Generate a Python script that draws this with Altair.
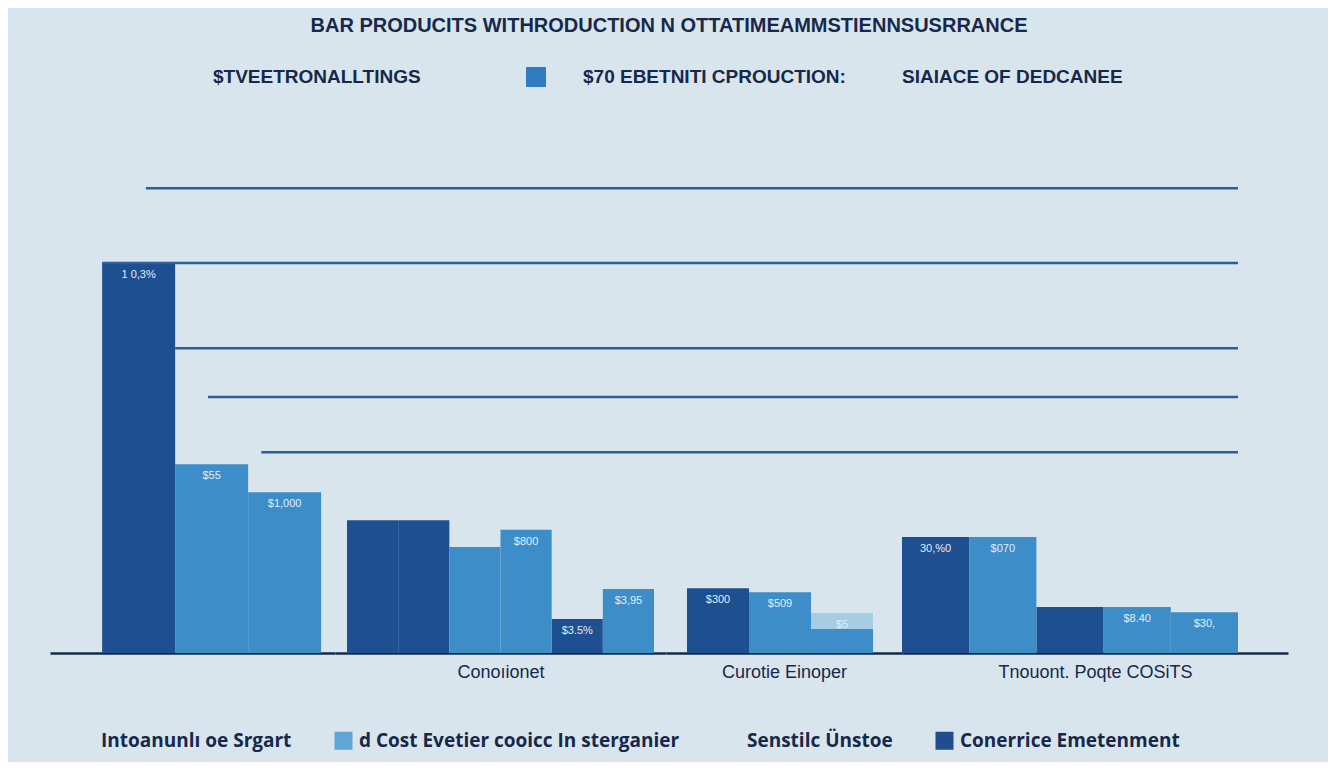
import altair as alt
import pandas as pd

# ---------------- data ----------------
TITLE = "BAR PRODUCITS WITHRODUCTION N OTTATIMEAMMSTIENNSUSRRANCE"
group_titles = ["", "Conoıionet", "Curotie Einoper", "Tnouont. Poqte COSiTS"]

bar_group = [0, 0, 0, 1, 1, 1, 1, 1, 1, 2, 2, 2, 3, 3, 3, 3, 3]
bar_slot = [1, 2, 3, 1, 2, 3, 4, 5, 6, 1, 2, 3, 1, 2, 3, 4, 5]
bar_value = [975, 472, 402, 332, 332, 265, 308, 85, 160, 162, 152, 60, 290, 290, 115, 115, 102]
bar_shade = ["dark", "medium", "medium",
             "dark", "dark", "medium", "medium", "dark", "medium",
             "dark", "medium", "medium",
             "dark", "medium", "dark", "medium", "medium"]
bar_label = ["1 0,3%", "$55", "$1,000",
             "", "", "", "$800", "$3.5%", "$3,95",
             "$300", "$509", "",
             "30,%0", "$070", "", "$8.40", "$30,"]

# light bar standing behind the last bar of the third group
back_group = [2]
back_slot = [3]
back_value = [100]
back_label = ["$5"]

grid_value = [1162, 975, 762, 640, 502]
grid_from_slot = [1, 1, 2, 2, 3]
grid_from_frac = [0.6, 0.0, 0.0, 0.45, 0.18]

top_legend_items = ["$TVEETRONALLTINGS", "$70 EBETNITI CPROUCTION:"]
top_legend_last = ["SIAIACE OF DEDCANEE"]
bottom_legend_items = ["Intoanunlı oe Srgart", "d Cost Evetier cooicc In sterganier",
                       "Senstilc Ünstoe", "Conerrice Emetenment"]

# ---------------- styles ----------------
SHADE = {"dark": "#1e4f91", "medium": "#3d8dc8", "light": "#a6cde4"}
NAVY = "#16284b"
GRID = "#2a5e9c"
BG = "#d9e5ec"

panel_width = [285, 331, 236, 386]
panel_pad = [0.452, 0.2345, 0.403, 0.372]
panel_align = [0.79, 0.5, 0.42, 0.0]
H = 520

bars = pd.DataFrame({"group": bar_group, "slot": bar_slot, "value": bar_value,
                     "shade": bar_shade, "label": bar_label})
back = pd.DataFrame({"group": back_group, "slot": back_slot, "value": back_value,
                     "label": back_label})
grid = pd.DataFrame({"value": grid_value, "slot": grid_from_slot, "frac": grid_from_frac})

yscale = alt.Scale(domain=[0, 1300])


def xenc(g, **kw):
    return alt.X(
        "slot:O",
        scale=alt.Scale(paddingInner=0, paddingOuter=panel_pad[g], align=panel_align[g]),
        axis=alt.Axis(title=group_titles[g], labels=False, ticks=False, grid=False,
                      domainColor=NAVY, domainWidth=2.5,
                      titleFont="Liberation Sans", titleFontSize=18,
                      titleFontWeight="normal", titleColor=NAVY, titlePadding=10),
        **kw,
    )


def yenc():
    return alt.Y("value:Q", scale=yscale, axis=None)


def panel(g):
    d = bars[bars.group == g]
    layers = []
    b = back[back.group == g]
    if len(b):
        layers.append(alt.Chart(b).mark_bar(color=SHADE["light"]).encode(x=xenc(g), y=yenc()))
    for shade in ["dark", "medium"]:
        ds = d[d.shade == shade]
        if len(ds):
            layers.append(alt.Chart(ds).mark_bar(color=SHADE[shade]).encode(x=xenc(g), y=yenc()))
    # gridlines
    if g == 0:
        for _, r in grid.iterrows():
            layers.append(
                alt.Chart(pd.DataFrame({"slot": [int(r.slot)], "value": [r.value]}))
                .mark_rule(color=GRID, strokeWidth=2.5)
                .encode(x=xenc(g, bandPosition=float(r.frac)), x2=alt.value("width"), y=yenc())
            )
    elif g == 3:
        gd = pd.DataFrame({"value": grid_value, "slot": [d.slot.min()] * len(grid_value),
                           "slot_end": [d.slot.max()] * len(grid_value)})
        layers.append(
            alt.Chart(gd).mark_rule(color=GRID, strokeWidth=2.5)
            .encode(x=xenc(g, bandPosition=0), x2=alt.X2("slot_end:O", bandPosition=1), y=yenc())
        )
    else:
        layers.append(
            alt.Chart(pd.DataFrame({"value": grid_value})).mark_rule(color=GRID, strokeWidth=2.5)
            .encode(y=yenc())
        )
    # value labels
    lab = pd.concat([d[d.label != ""][["slot", "value", "label"]], b[["slot", "value", "label"]]])
    layers.append(
        alt.Chart(lab).mark_text(color="#e3edf6", fontSize=11, font="Liberation Sans",
                                 baseline="middle", dy=12)
        .encode(x=xenc(g), y=yenc(), text="label:N")
    )
    if g == 0:
        empty = pd.DataFrame({"k": [0]})
        layers.append(
            alt.Chart(empty).transform_filter("false").mark_square().encode(
                fill=alt.Fill("k:N", scale=alt.Scale(domain=top_legend_items,
                                                       range=["transparent", "#2f7cc0"]),
                              legend=alt.Legend(title=None, orient="none", legendX=106, legendY=-66,
                                                direction="horizontal", columns=2, columnPadding=105,
                                                symbolType="square", symbolSize=400,
                                                symbolOpacity=1,
                                                symbolStrokeWidth=0, labelOffset=37,
                                                labelFont="Liberation Sans", labelFontSize=19,
                                                labelFontWeight="bold", labelColor=NAVY,
                                                labelLimit=700))
            )
        )
        layers.append(
            alt.Chart(empty).transform_filter("false").mark_square().encode(
                stroke=alt.Stroke("k:N", scale=alt.Scale(domain=top_legend_last, range=["transparent"]),
                                  legend=alt.Legend(title=None, orient="none", legendX=833, legendY=-66,
                                                    direction="horizontal", symbolType="square",
                                                    symbolSize=4, symbolStrokeWidth=0,
                                                    symbolOpacity=0,
                                                    symbolFillColor="transparent", labelOffset=0,
                                                    labelFont="Liberation Sans", labelFontSize=19,
                                                    labelFontWeight="bold", labelColor=NAVY,
                                                    labelLimit=700))
            )
        )
        layers.append(
            alt.Chart(empty).transform_filter("false").mark_square().encode(
                color=alt.Color("k:N", scale=alt.Scale(domain=bottom_legend_items,
                                                         range=["transparent", "#5fa5d9",
                                                                "transparent", "#1f4d90"]),
                                legend=alt.Legend(title=None, orient="none", legendX=26, legendY=598,
                                                  direction="horizontal", columns=4, columnPadding=42,
                                                  symbolType="square", symbolSize=324,
                                                  symbolOpacity=1,
                                                  symbolStrokeWidth=0, labelOffset=6,
                                                  labelFont="Open Sans", labelFontSize=19,
                                                  labelFontWeight="bold", labelColor=NAVY,
                                                  labelLimit=700))
            )
        )
    return alt.layer(*layers).properties(width=panel_width[g], height=H)


chart = (
    alt.hconcat(*[panel(g) for g in range(4)], spacing=0, bounds="flush")
    .properties(
        title=alt.Title(TITLE, font="Liberation Sans", fontSize=20, fontWeight="bold",
                        color=NAVY, anchor="middle", offset=31),
        padding={"left": 42, "top": 8, "right": 40, "bottom": 11},
    )
    .configure(background=BG)
    .configure_view(strokeWidth=0)
)

chart.save("out.html", embed_options={"renderer": "svg", "actions": False})
